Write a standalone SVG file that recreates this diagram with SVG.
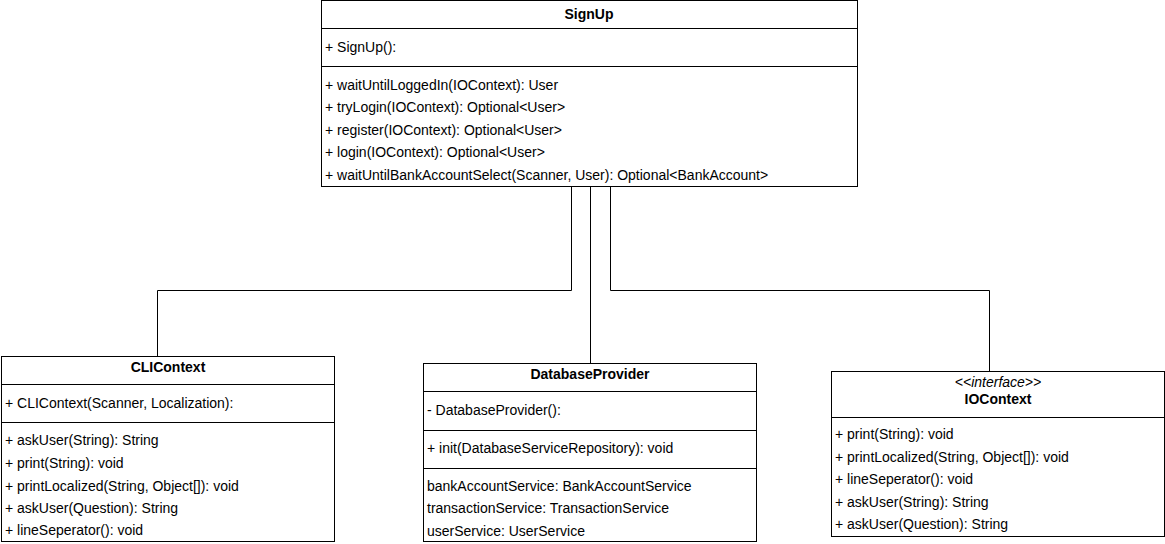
<svg xmlns="http://www.w3.org/2000/svg" width="1165" height="544" viewBox="0 0 1165 544">
<style>
.box{fill:#fff;stroke:#000;stroke-width:1}
.sep{stroke:#000;stroke-width:1}
.t{font-family:"Liberation Sans",Arial,sans-serif;font-size:14px;fill:#000}
.h{font-family:"Liberation Sans",Arial,sans-serif;font-size:14px;font-weight:bold;fill:#000;text-anchor:middle}
.s{font-family:"Liberation Sans",Arial,sans-serif;font-size:14px;font-style:italic;fill:#000;text-anchor:middle}
.c{fill:none;stroke:#000;stroke-width:1}
</style>
<rect width="1165" height="544" fill="#fff"/>
<g id="connectors">
<path class="c" d="M571.5 186 V290.5 H157.5 V356"/>
<path class="c" d="M590.5 186 V363"/>
<path class="c" d="M610.5 186 V290.5 H989.5 V371"/>
</g>
<g id="SignUp">
<rect class="box" x="321.5" y="0.5" width="536" height="186"/>
<line class="sep" x1="321.5" y1="28.5" x2="857.5" y2="28.5"/>
<line class="sep" x1="321.5" y1="66.5" x2="857.5" y2="66.5"/>
<text class="h" x="589" y="19">SignUp</text>
<text class="t" x="325" y="52">+ SignUp():</text>
<text class="t" x="325" y="90">+ waitUntilLoggedIn(IOContext): User</text>
<text class="t" x="325" y="112">+ tryLogin(IOContext): Optional&lt;User&gt;</text>
<text class="t" x="325" y="135">+ register(IOContext): Optional&lt;User&gt;</text>
<text class="t" x="325" y="157">+ login(IOContext): Optional&lt;User&gt;</text>
<text class="t" x="325" y="180">+ waitUntilBankAccountSelect(Scanner, User): Optional&lt;BankAccount&gt;</text>
</g>
<g id="CLIContext">
<rect class="box" x="1.5" y="356.5" width="333" height="185"/>
<line class="sep" x1="1.5" y1="384.5" x2="334.5" y2="384.5"/>
<line class="sep" x1="1.5" y1="422.5" x2="334.5" y2="422.5"/>
<text class="h" x="168" y="372">CLIContext</text>
<text class="t" x="5" y="408">+ CLIContext(Scanner, Localization):</text>
<text class="t" x="5" y="445">+ askUser(String): String</text>
<text class="t" x="5" y="468">+ print(String): void</text>
<text class="t" x="5" y="491">+ printLocalized(String, Object[]): void</text>
<text class="t" x="5" y="513">+ askUser(Question): String</text>
<text class="t" x="5" y="535">+ lineSeperator(): void</text>
</g>
<g id="DatabaseProvider">
<rect class="box" x="423.5" y="363.5" width="333" height="178"/>
<line class="sep" x1="423.5" y1="391.5" x2="756.5" y2="391.5"/>
<line class="sep" x1="423.5" y1="430.5" x2="756.5" y2="430.5"/>
<line class="sep" x1="423.5" y1="468.5" x2="756.5" y2="468.5"/>
<text class="h" x="590" y="379">DatabaseProvider</text>
<text class="t" x="427" y="415">- DatabaseProvider():</text>
<text class="t" x="427" y="453">+ init(DatabaseServiceRepository): void</text>
<text class="t" x="427" y="491">bankAccountService: BankAccountService</text>
<text class="t" x="427" y="513">transactionService: TransactionService</text>
<text class="t" x="427" y="536">userService: UserService</text>
</g>
<g id="IOContext">
<rect class="box" x="831.5" y="371.5" width="333" height="165"/>
<line class="sep" x1="831.5" y1="417.5" x2="1164.5" y2="417.5"/>
<text class="s" x="998" y="387">&lt;&lt;interface&gt;&gt;</text>
<text class="h" x="998" y="404">IOContext</text>
<text class="t" x="835" y="439">+ print(String): void</text>
<text class="t" x="835" y="462">+ printLocalized(String, Object[]): void</text>
<text class="t" x="835" y="484">+ lineSeperator(): void</text>
<text class="t" x="835" y="507">+ askUser(String): String</text>
<text class="t" x="835" y="529">+ askUser(Question): String</text>
</g>
</svg>
